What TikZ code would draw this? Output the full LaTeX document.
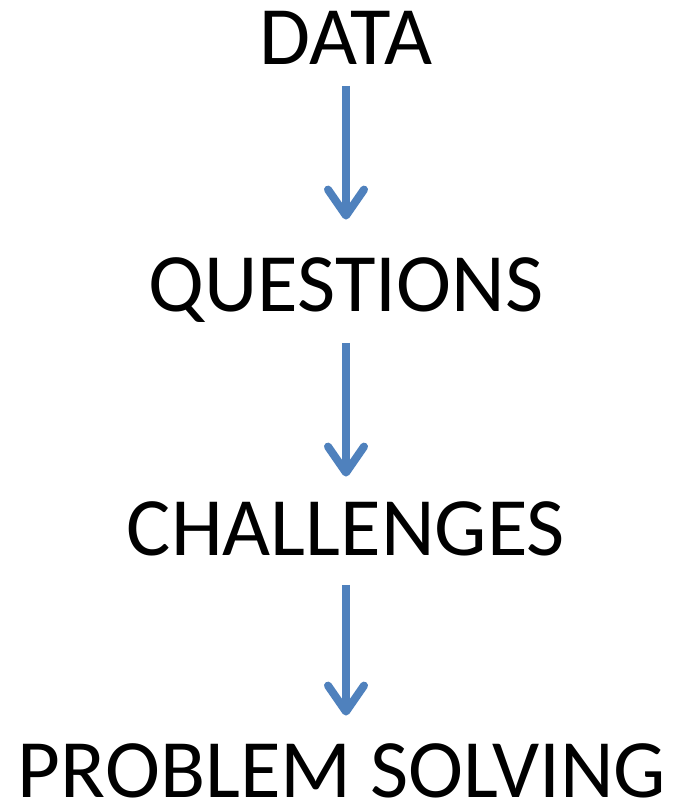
\documentclass[tikz,border=0pt]{standalone}
\usepackage{fontspec}
\setmainfont{Carlito}
\usetikzlibrary{arrows.meta}
\definecolor{arrowblue}{HTML}{4F81BD}
\begin{document}
\begin{tikzpicture}[x=1pt,y=1pt,
  lbl/.style={inner sep=0pt, text height=53pt, text depth=0pt, anchor=south, font=\fontsize{83}{90}\selectfont},
  arr/.style={draw=arrowblue, line width=8pt, -{Straight Barb[length=26pt,width=36pt,round]}}]
\useasboundingbox (0,0) rectangle (682,806);
\node[lbl] (data) at (346,741) {DATA};
\node[lbl] (questions) at (346,494) {QUESTIONS};
\node[lbl] (challenges) at (346,250) {CHALLENGES};
\node[lbl] (problem) at (342,8) {PROBLEM SOLVING};
\draw[arr, shorten <=21pt, shorten >=39pt] (data.south) -- (questions.north);
\draw[arr, shorten <=31pt, shorten >=26pt] (questions.south) -- (challenges.north);
\draw[arr, shorten <=29pt, shorten >=29pt] (challenges.south) -- (challenges.south |- problem.north);
\end{tikzpicture}
\end{document}
